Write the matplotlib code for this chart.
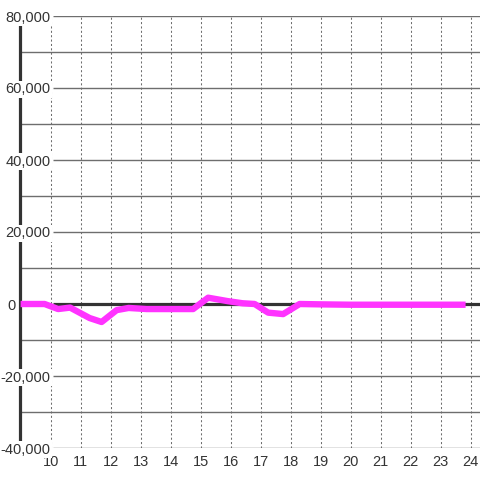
import matplotlib
matplotlib.use('Agg')
import matplotlib.pyplot as plt
import matplotlib.transforms as mtransforms

plt.rcParams['font.family'] = ['Liberation Sans', 'DejaVu Sans']

# ------------ DATA -------------- #
hours = [9.0, 9.8, 10.25, 10.65, 11.3, 11.7, 12.2, 12.6, 13.2, 14.75,
         15.25, 15.9, 16.4, 16.8, 17.25, 17.75, 18.3, 19.0, 20.0, 21.0,
         22.0, 23.0, 23.83]
values = [0, 0, -1400, -1000, -3900, -5000, -1700, -1100, -1400, -1400,
          1750, 800, 200, 0, -2400, -2800, 0, -100, -200, -200,
          -200, -200, -200]
x_ticks = list(range(10, 25))
y_labeled = list(range(-40000, 80001, 20000))
y_minor = list(range(-30000, 80000, 20000))

text_col = '#333333'
grid_col = '#6e6e6e'

fig = plt.figure(figsize=(4.8, 4.8), dpi=100)
ax = fig.add_axes([20/480, 32/480, 460/480, 432/480])
ax.set_xlim(8.98, 24.31)
ax.set_ylim(-40000, 80000)

for s in ['top', 'right', 'bottom']:
    ax.spines[s].set_visible(False)
ax.spines['left'].set_color(text_col)
ax.spines['left'].set_linewidth(2.3)
ax.spines['left'].set_zorder(2.5)

# vertical dotted grid
ax.vlines(x_ticks, -40000, 80000, colors=grid_col, linewidth=0.75,
          linestyles=(0, (2, 2.2)), zorder=1)

# horizontal grid: labelled lines start right of the labels
label_x = 10.0
line_start = 10.08
xmax = ax.get_xlim()[1]
ax.hlines(y_minor, ax.get_xlim()[0], xmax, colors=grid_col, linewidth=1.0, zorder=1)
ax.hlines([y for y in y_labeled if y != 0], line_start, xmax, colors=grid_col,
          linewidth=1.0, zorder=1)
ax.hlines([0], line_start, xmax, colors=text_col, linewidth=2.3, zorder=2)

# zero label sits at the far left, the others end at the first hour line
zero_trans = mtransforms.blended_transform_factory(fig.transFigure, ax.transData)
for y in y_labeled:
    if y == 0:
        ax.text(12/480, y, '0', transform=zero_trans, ha='center',
                va='center_baseline', fontsize=10.5, color=text_col, zorder=3)
    else:
        ax.text(label_x, y, f'{y:,}', ha='right', va='center_baseline',
                fontsize=10.5, color=text_col, zorder=3,
                bbox=dict(facecolor='white', edgecolor='none', pad=1.2))

ax.plot(hours, values, color='#ff33ff', linewidth=4.6, solid_joinstyle='round',
        solid_capstyle='butt', zorder=4)

ax.set_yticks([])
ax.set_xticks(x_ticks)
ax.set_xticklabels([str(h) for h in x_ticks])
ax.tick_params(axis='x', length=0, pad=5, labelsize=10.5, labelcolor=text_col)

fig.savefig('out.png', dpi=100)
